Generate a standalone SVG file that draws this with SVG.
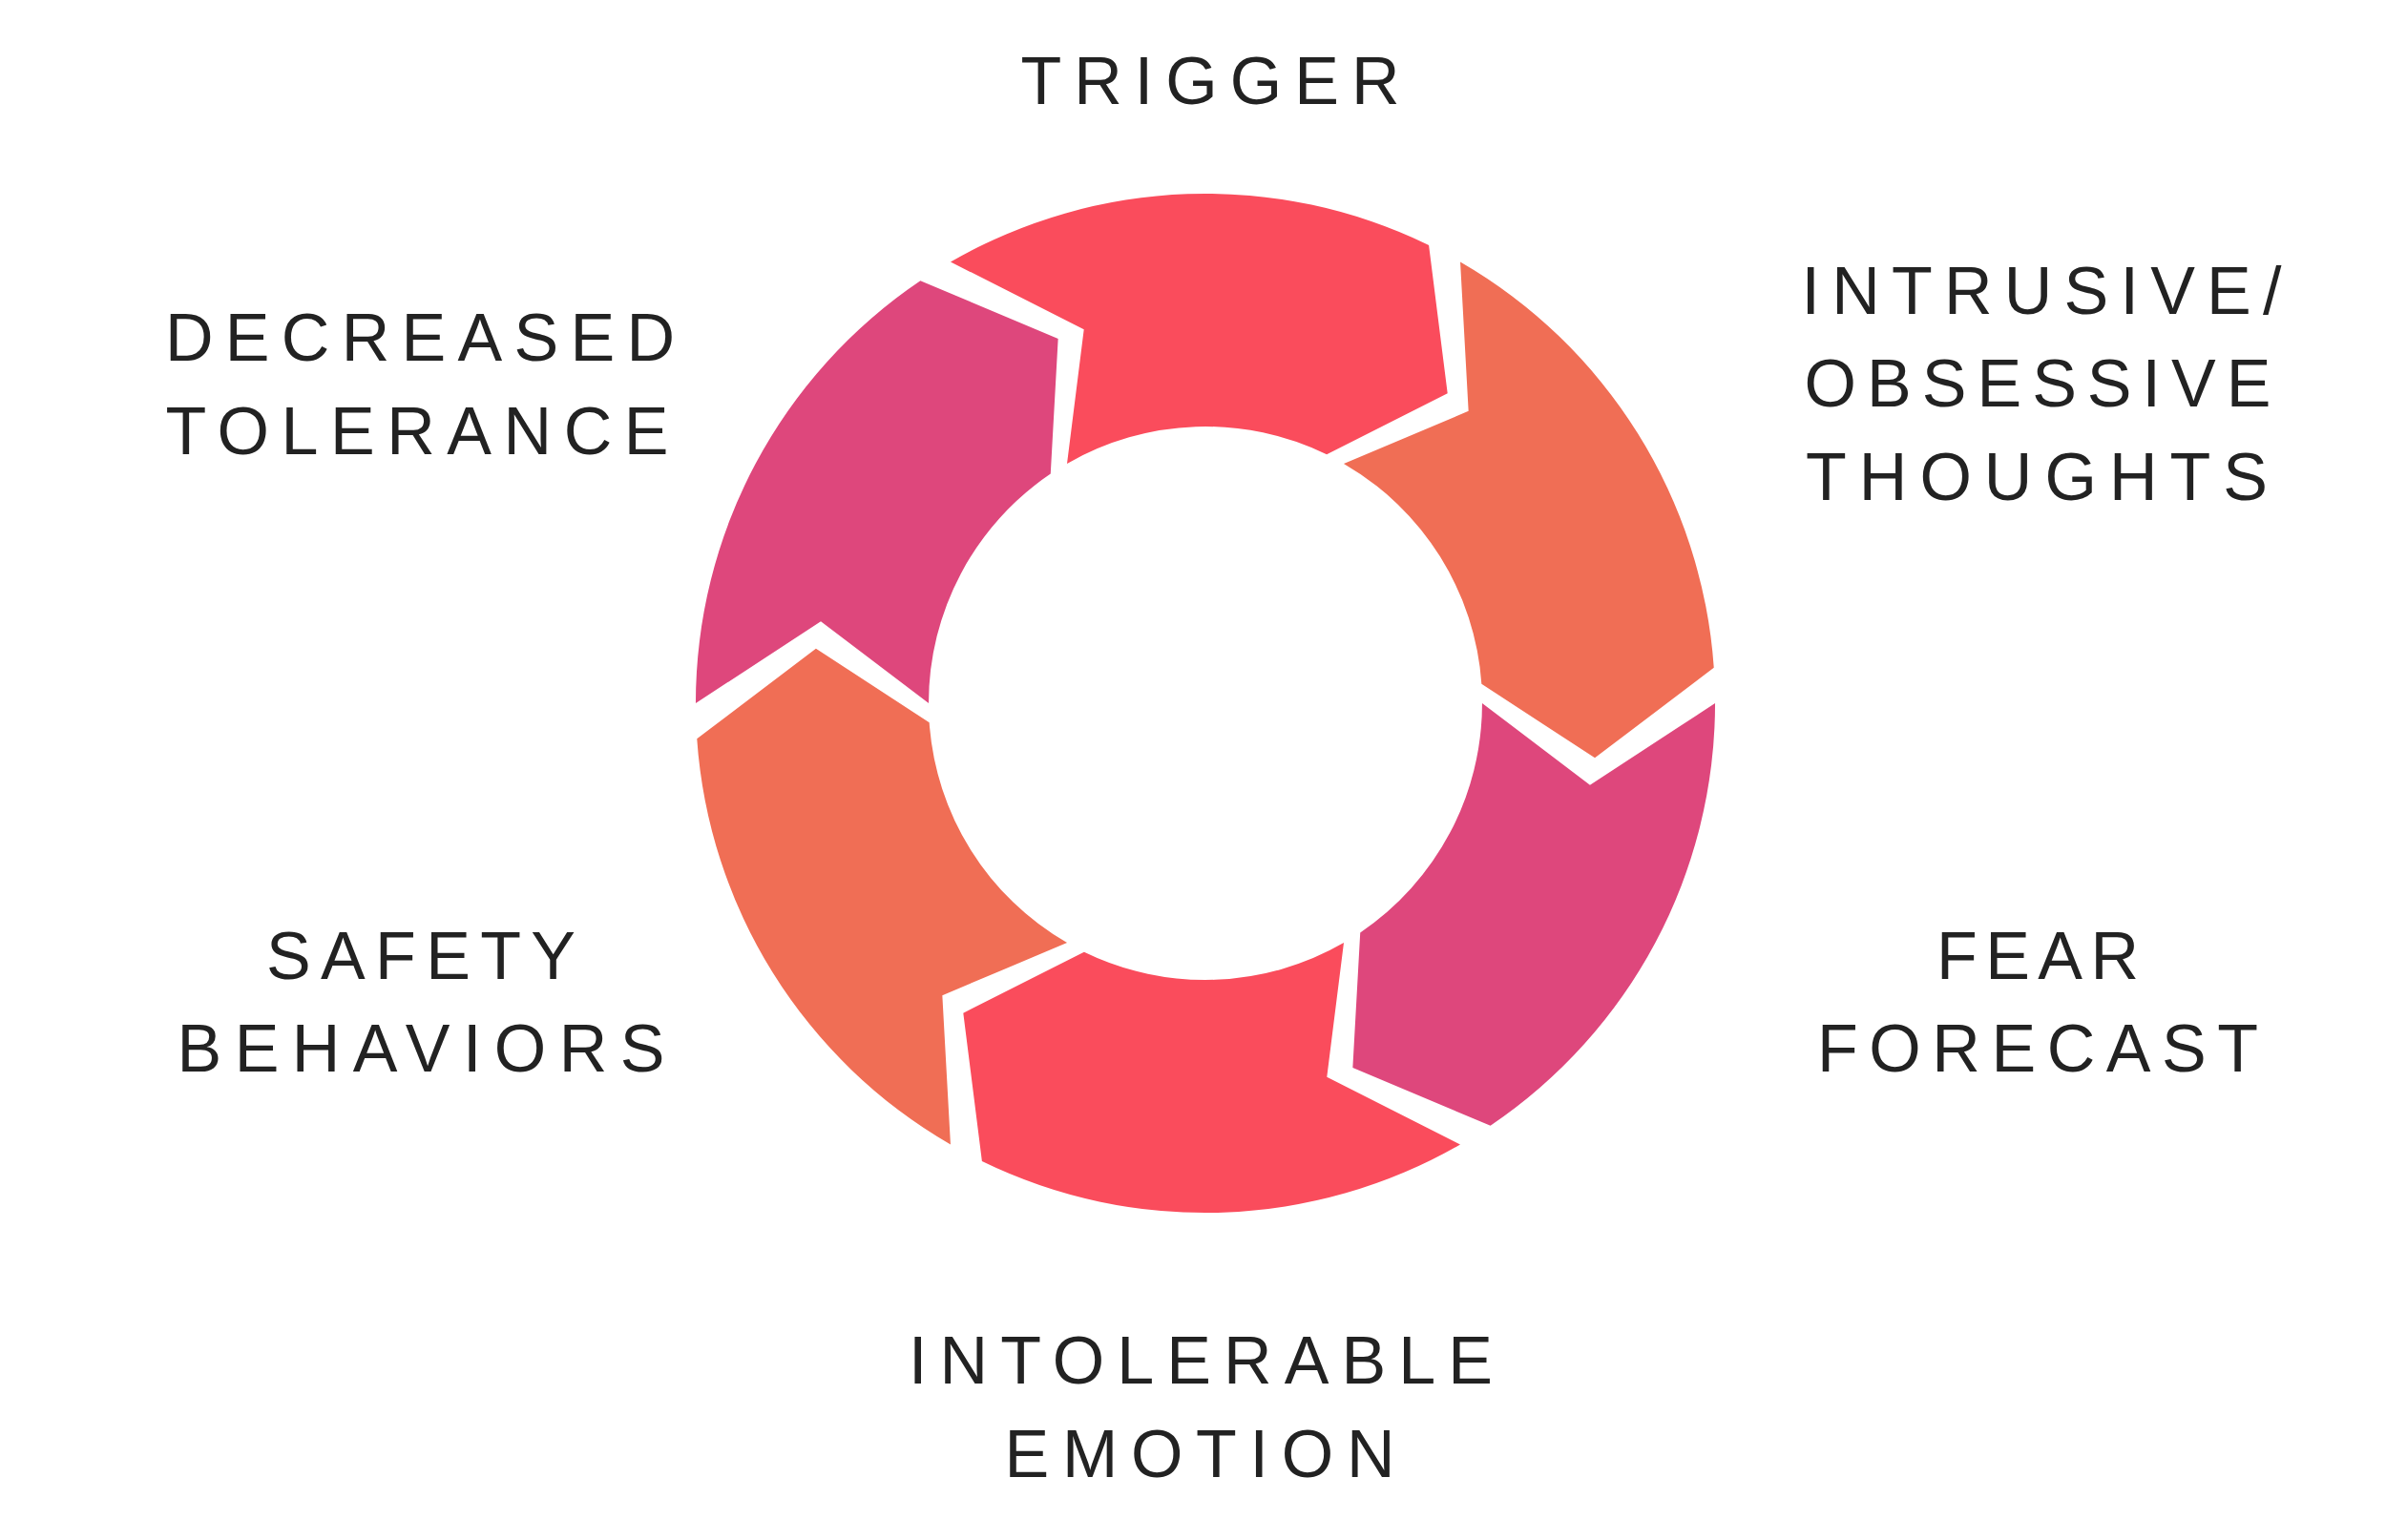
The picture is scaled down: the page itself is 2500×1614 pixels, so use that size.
<svg xmlns="http://www.w3.org/2000/svg" width="2500" height="1614" viewBox="0 0 2500 1614">
<style>
text{font-family:"Liberation Sans",Arial,sans-serif;font-size:70px;fill:#222;text-anchor:middle}
.red{fill:#FA4C5C}.org{fill:#F06E55}.pnk{fill:#DE477C}
</style>
<defs>
<path id="seg" d="M996,274.5 A534,534 0 0 1 1497.1,257 L1516.7,412.3 L1390.1,476.3 A290,290 0 0 0 1118,485.9 L1135.7,345.2 Z"/>
</defs>
<rect width="2500" height="1614" fill="#fff"/>
<g id="connectors"></g>
<g id="n-trigger"><use href="#seg" class="red"/><text x="1268" y="109" textLength="397" lengthAdjust="spacing">TRIGGER</text></g>
<g id="n-thoughts"><use href="#seg" class="org" transform="rotate(60 1263 737)"/><text x="2139" y="329" textLength="503" lengthAdjust="spacing">INTRUSIVE/</text><text x="2135" y="426" textLength="489" lengthAdjust="spacing">OBSESSIVE</text><text x="2134" y="524" textLength="484" lengthAdjust="spacing">THOUGHTS</text></g>
<g id="n-fear"><use href="#seg" class="pnk" transform="rotate(120 1263 737)"/><text x="2135" y="1026" textLength="212" lengthAdjust="spacing">FEAR</text><text x="2135" y="1123" textLength="462" lengthAdjust="spacing">FORECAST</text></g>
<g id="n-emotion"><use href="#seg" class="red" transform="rotate(180 1263 737)"/><text x="1258" y="1450" textLength="612" lengthAdjust="spacing">INTOLERABLE</text><text x="1257" y="1548" textLength="409" lengthAdjust="spacing">EMOTION</text></g>
<g id="n-safety"><use href="#seg" class="org" transform="rotate(240 1263 737)"/><text x="441" y="1026" textLength="324" lengthAdjust="spacing">SAFETY</text><text x="441" y="1123" textLength="511" lengthAdjust="spacing">BEHAVIORS</text></g>
<g id="n-tolerance"><use href="#seg" class="pnk" transform="rotate(300 1263 737)"/><text x="440" y="378" textLength="534" lengthAdjust="spacing">DECREASED</text><text x="437" y="476" textLength="527" lengthAdjust="spacing">TOLERANCE</text></g>
</svg>
